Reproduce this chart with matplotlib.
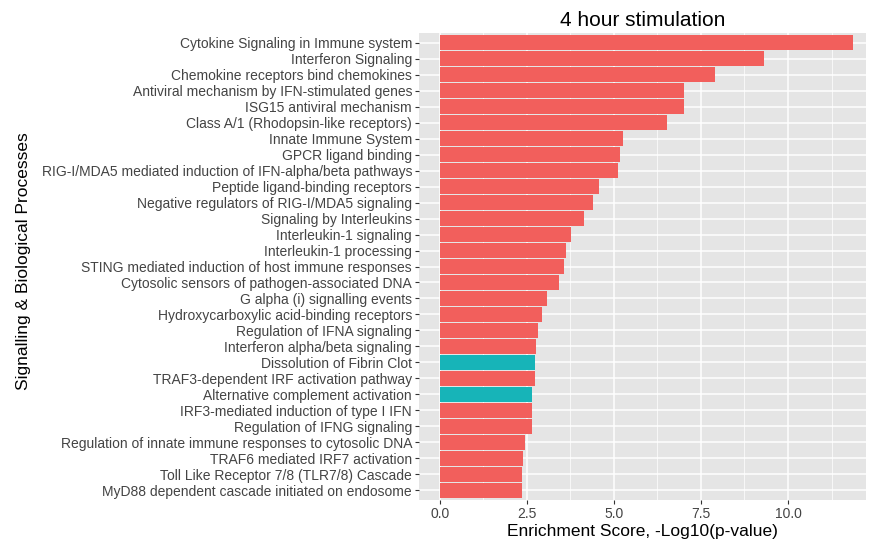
import numpy as np
import matplotlib
matplotlib.use("Agg")
import matplotlib.pyplot as plt
from matplotlib.ticker import MultipleLocator

plt.rcParams['font.family'] = ['Liberation Sans', 'DejaVu Sans']

# pathways, top to bottom as shown
pathways = [
    "Cytokine Signaling in Immune system",
    "Interferon Signaling",
    "Chemokine receptors bind chemokines",
    "Antiviral mechanism by IFN-stimulated genes",
    "ISG15 antiviral mechanism",
    "Class A/1 (Rhodopsin-like receptors)",
    "Innate Immune System",
    "GPCR ligand binding",
    "RIG-I/MDA5 mediated induction of IFN-alpha/beta pathways",
    "Peptide ligand-binding receptors",
    "Negative regulators of RIG-I/MDA5 signaling",
    "Signaling by Interleukins",
    "Interleukin-1 signaling",
    "Interleukin-1 processing",
    "STING mediated induction of host immune responses",
    "Cytosolic sensors of pathogen-associated DNA",
    "G alpha (i) signalling events",
    "Hydroxycarboxylic acid-binding receptors",
    "Regulation of IFNA signaling",
    "Interferon alpha/beta signaling",
    "Dissolution of Fibrin Clot",
    "TRAF3-dependent IRF activation pathway",
    "Alternative complement activation",
    "IRF3-mediated induction of type I IFN",
    "Regulation of IFNG signaling",
    "Regulation of innate immune responses to cytosolic DNA",
    "TRAF6 mediated IRF7 activation",
    "Toll Like Receptor 7/8 (TLR7/8) Cascade",
    "MyD88 dependent cascade initiated on endosome",
]
scores = [11.88, 9.32, 7.91, 7.02, 7.02, 6.53, 5.25, 5.17, 5.12, 4.58,
          4.39, 4.14, 3.76, 3.63, 3.57, 3.43, 3.07, 2.94, 2.81, 2.76,
          2.73, 2.73, 2.65, 2.65, 2.65, 2.45, 2.38, 2.35, 2.35]
# group: 0 = red, 1 = teal
group = [0]*20 + [1, 0, 1] + [0]*6
colors = ['#F25F5C', '#17B4B8']

fig = plt.figure(figsize=(8.71, 5.42), dpi=100)
ax = fig.add_axes([419/871, 1-500/542, (866-419)/871, (500-33)/542])
ax.set_facecolor('#E5E5E5')

n = len(pathways)
ypos = np.arange(n)[::-1] + 1
ax.barh(ypos, scores, height=0.9, color=[colors[g] for g in group], zorder=3)

ax.set_xlim(-0.594, 12.24)
ax.set_ylim(0.4, n + 0.6)
ax.set_yticks(ypos)
ax.set_yticklabels(pathways)
ax.xaxis.set_minor_locator(MultipleLocator(1.25))
ax.set_xticks([0, 2.5, 5, 7.5, 10])
ax.set_xticklabels(['0.0', '2.5', '5.0', '7.5', '10.0'])

ax.grid(which='major', color='white', linewidth=1.1, zorder=0)
ax.grid(which='minor', axis='x', color='white', linewidth=0.5, zorder=0)
ax.set_axisbelow(True)
for s in ax.spines.values():
    s.set_visible(False)

ax.tick_params(axis='both', which='major', length=3, width=0.8, color='#333333',
               labelsize=10, labelcolor='#444444', pad=2)
ax.tick_params(axis='both', which='minor', length=0)

ax.set_title('4 hour stimulation', fontsize=15, pad=5)
ax.set_xlabel('Enrichment Score, -Log10(p-value)', fontsize=12.5, labelpad=2)
ax.set_ylabel('Signalling & Biological Processes', fontsize=12.5)
ax.yaxis.set_label_coords((31 - 419) / 447, 0.512)

fig.savefig('out.png', dpi=100)
